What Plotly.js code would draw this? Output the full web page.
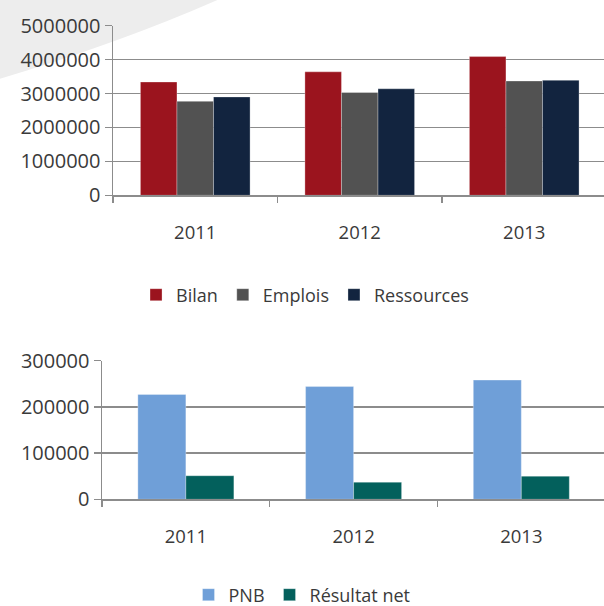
<!DOCTYPE html>
<html>
<head>
<meta charset="utf-8">
<script src="https://cdn.plot.ly/plotly-3.0.1.min.js"></script>
<style>html,body{margin:0;padding:0;background:#fff;}#chart{width:604px;height:606px;}</style>
</head>
<body>
<div id="chart"></div>
<script>
// Data
var years = ['2011', '2012', '2013'];
var bilan = [3340000, 3640000, 4090000];
var emplois = [2770000, 3030000, 3370000];
var ressources = [2900000, 3140000, 3390000];
var pnb = [227000, 244000, 258000];
var resultatNet = [51000, 37000, 50000];

var FONT = 'Open Sans, Lato, sans-serif';
var TXT = '#3a3a3a';
var w1 = 0.2222, w2 = 0.2862;

var traces = [
  {type:'bar', name:'Bilan', x:years, y:bilan, xaxis:'x', yaxis:'y', width:w1, offset:-1.5*w1,
   marker:{color:'#9b141e', line:{color:'rgba(255,255,255,0.6)', width:0.5}}, legend:'legend'},
  {type:'bar', name:'Emplois', x:years, y:emplois, xaxis:'x', yaxis:'y', width:w1, offset:-0.5*w1,
   marker:{color:'#525252', line:{color:'rgba(255,255,255,0.6)', width:0.5}}, legend:'legend'},
  {type:'bar', name:'Ressources', x:years, y:ressources, xaxis:'x', yaxis:'y', width:w1, offset:0.5*w1,
   marker:{color:'#12243f', line:{color:'rgba(255,255,255,0.6)', width:0.5}}, legend:'legend'},
  {type:'bar', name:'PNB', x:years, y:pnb, xaxis:'x2', yaxis:'y2', width:w2, offset:-w2,
   marker:{color:'#6f9fd8', line:{color:'rgba(255,255,255,0.6)', width:0.5}}, legend:'legend2'},
  {type:'bar', name:'Résultat net', x:years, y:resultatNet, xaxis:'x2', yaxis:'y2', width:w2, offset:0,
   marker:{color:'#03605c', line:{color:'rgba(255,255,255,0.6)', width:0.5}}, legend:'legend2'}
];

var axisCommonX = {
  type:'category', showgrid:false, showline:true, linecolor:'#8c8c8c', linewidth:1.5,
  ticks:'outside', tickson:'boundaries', ticklen:6, tickcolor:'#8c8c8c', tickwidth:1.5,
  tickfont:{family:FONT, size:18.5, color:TXT}, ticklabelstandoff:20, fixedrange:true, zeroline:false
};
var axisCommonY = {
  showgrid:true, gridcolor:'#8c8c8c', gridwidth:1.5, showline:true, linecolor:'#8c8c8c', linewidth:1.5,
  ticks:'outside', ticklen:7, tickcolor:'#8c8c8c', tickwidth:1.5, tickformat:'d',
  tickfont:{family:FONT, size:20, color:TXT}, zeroline:false, fixedrange:true
};

var layout = {
  width:604, height:606,
  margin:{l:0, r:0, t:0, b:0, autoexpand:false},
  paper_bgcolor:'#ffffff', plot_bgcolor:'rgba(0,0,0,0)',
  barmode:'group',
  font:{family:FONT, color:TXT},
  showlegend:true,
  xaxis: Object.assign({}, axisCommonX, {domain:[113/604, 1], range:[-0.5, 2.485], anchor:'y'}),
  yaxis: Object.assign({}, axisCommonY, {domain:[(606-195.3)/606, (606-25.7)/606], range:[0, 5000000], dtick:1000000, anchor:'x'}),
  xaxis2: Object.assign({}, axisCommonX, {domain:[102/604, 1], range:[-0.5, 2.493], anchor:'y2'}),
  yaxis2: Object.assign({}, axisCommonY, {domain:[(606-499.3)/606, (606-360.7)/606], range:[0, 300000], dtick:100000, anchor:'x2'}),
  legend:{orientation:'h', x:0.505, xanchor:'center', y:(606-295)/606, yanchor:'middle',
          font:{family:FONT, size:18, color:TXT}, itemwidth:30, bgcolor:'rgba(0,0,0,0)', traceorder:'normal'},
  legend2:{orientation:'h', x:0.5, xanchor:'center', y:(606-595)/606, yanchor:'middle',
          font:{family:FONT, size:18, color:TXT}, itemwidth:30, bgcolor:'rgba(0,0,0,0)', traceorder:'normal'},
  shapes:[{type:'path', xref:'paper', yref:'paper', layer:'below',
           path:'M0,1 L0.36,1 Q0.2,0.93 0,0.87 Z', fillcolor:'#ededed', line:{width:0}}]
};

Plotly.newPlot('chart', traces, layout, {displayModeBar:false, staticPlot:true});
</script>
</body>
</html>
